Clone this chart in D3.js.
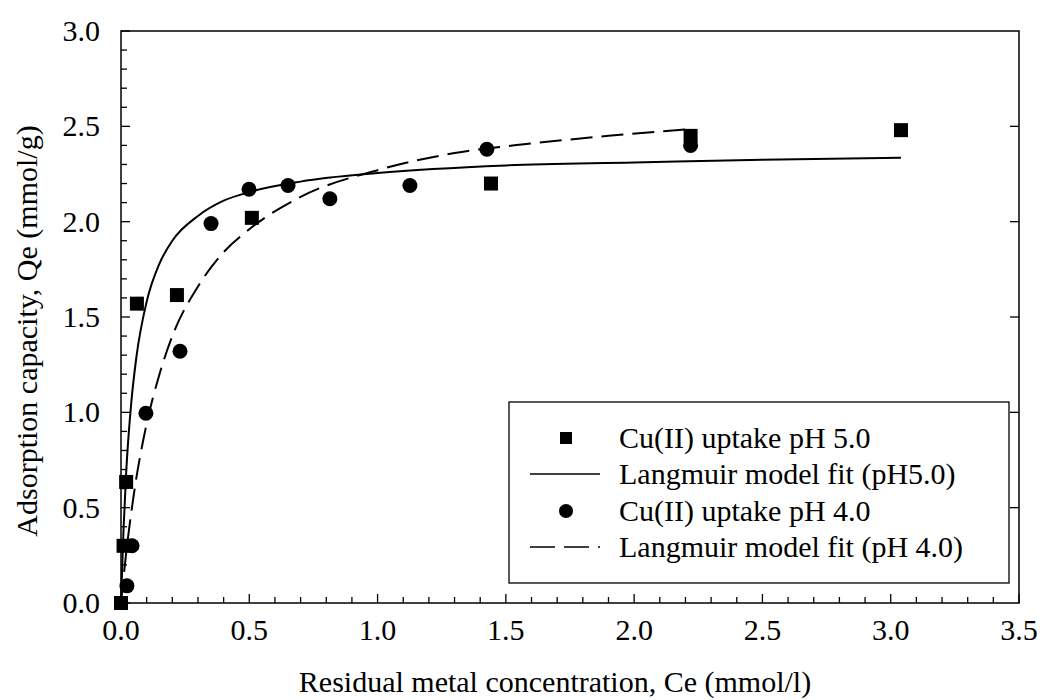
<!DOCTYPE html>
<html>
<head>
<meta charset="utf-8">
<script src="https://cdn.jsdelivr.net/npm/d3@7"></script>
<style>
  body { margin: 0; background: #fff; }
  svg text { font-family: "Liberation Serif", "Times New Roman", Times, "DejaVu Serif", serif; fill: #000; }
</style>
</head>
<body>
<script>
// measured points, Cu(II) uptake pH 5.0 (squares)
const ph5X = [0, 0.01, 0.02, 0.062, 0.218, 0.51, 1.442, 2.22, 3.04];
const ph5Y = [0, 0.30, 0.635, 1.57, 1.615, 2.02, 2.20, 2.45, 2.48];
// measured points, Cu(II) uptake pH 4.0 (circles)
const ph4X = [0.023, 0.043, 0.097, 0.23, 0.351, 0.499, 0.651, 0.814, 1.126, 1.426, 2.22];
const ph4Y = [0.09, 0.30, 0.995, 1.32, 1.99, 2.17, 2.19, 2.12, 2.19, 2.38, 2.40];
// Langmuir fit curves
const fit5X = [0, 0.01, 0.02, 0.04, 0.06, 0.1, 0.15, 0.2, 0.3, 0.4, 0.5, 0.7, 1.0, 1.5, 2.0, 2.5, 3.04];
const fit5Y = [0, 0.39, 0.68, 1.05, 1.29, 1.58, 1.78, 1.90, 2.03, 2.11, 2.155, 2.21, 2.255, 2.295, 2.31, 2.325, 2.335];
const fit4X = [0, 0.02, 0.05, 0.1, 0.15, 0.2, 0.3, 0.4, 0.5, 0.7, 1.0, 1.3, 1.6, 1.9, 2.22];
const fit4Y = [0, 0.26, 0.57, 0.94, 1.20, 1.40, 1.66, 1.84, 1.96, 2.13, 2.27, 2.36, 2.41, 2.45, 2.485];

const xTicks = [0, 0.5, 1.0, 1.5, 2.0, 2.5, 3.0, 3.5];
const yTicks = [0, 0.5, 1.0, 1.5, 2.0, 2.5, 3.0];
const legendLabels = ["Cu(II) uptake pH 5.0", "Langmuir model fit (pH5.0)", "Cu(II) uptake pH 4.0", "Langmuir model fit (pH 4.0)"];

const W = 1042, H = 700;
const plotL = 121, plotR = 1019, plotT = 31, plotB = 603;
const FONT = "'Liberation Serif', 'Times New Roman', Times, 'DejaVu Serif', serif";

const svg = d3.select("body").append("svg")
  .attr("width", W)
  .attr("height", H)
  .attr("font-family", FONT);

const x = d3.scaleLinear().domain([0, 3.5]).range([plotL, plotR]);
const y = d3.scaleLinear().domain([0, 3.0]).range([plotB, plotT]);

const xMinor = d3.range(0, 35.5, 1).map(d => d / 10);
const yMinor = d3.range(0, 30.5, 1).map(d => d / 10);

// frame
svg.append("rect")
  .attr("x", plotL).attr("y", plotT)
  .attr("width", plotR - plotL).attr("height", plotB - plotT)
  .attr("fill", "none").attr("stroke", "#000").attr("stroke-width", 1.5);

const isMajor = v => Math.abs(v * 2 - Math.round(v * 2)) < 1e-6;

// bottom ticks (inward)
svg.append("g").selectAll("line")
  .data(xMinor)
  .enter().append("line")
  .attr("x1", d => x(d)).attr("x2", d => x(d))
  .attr("y1", plotB).attr("y2", d => plotB - (isMajor(d) ? 9 : 6))
  .attr("stroke", "#000").attr("stroke-width", 1.3);

// left ticks (inward)
svg.append("g").selectAll("line")
  .data(yMinor)
  .enter().append("line")
  .attr("y1", d => y(d)).attr("y2", d => y(d))
  .attr("x1", plotL).attr("x2", d => plotL + (isMajor(d) ? 9 : 6))
  .attr("stroke", "#000").attr("stroke-width", 1.3);

// right ticks, majors only
svg.append("g").selectAll("line")
  .data(yTicks.slice(1, -1))
  .enter().append("line")
  .attr("y1", d => y(d)).attr("y2", d => y(d))
  .attr("x1", plotR).attr("x2", plotR - 9)
  .attr("stroke", "#000").attr("stroke-width", 1.3);

// tick labels
svg.append("g").selectAll("text")
  .data(xTicks)
  .enter().append("text")
  .attr("x", d => x(d)).attr("y", 640)
  .attr("text-anchor", "middle")
  .attr("font-size", 30)
  .text(d => d.toFixed(1));

svg.append("g").selectAll("text")
  .data(yTicks)
  .enter().append("text")
  .attr("x", 100).attr("y", d => y(d) + 10)
  .attr("text-anchor", "end")
  .attr("font-size", 30)
  .text(d => d.toFixed(1));

// axis titles
svg.append("text")
  .attr("x", 555).attr("y", 692)
  .attr("text-anchor", "middle")
  .attr("font-size", 30)
  .text("Residual metal concentration, Ce (mmol/l)");

svg.append("text")
  .attr("transform", "translate(37," + 331 + ") rotate(-90)")
  .attr("text-anchor", "middle")
  .attr("font-size", 30)
  .text("Adsorption capacity, Qe (mmol/g)");

// fit lines
const line = d3.line()
  .x(d => x(d[0]))
  .y(d => y(d[1]))
  .curve(d3.curveMonotoneX);

svg.append("path")
  .datum(d3.zip(fit5X, fit5Y))
  .attr("d", line)
  .attr("fill", "none").attr("stroke", "#000").attr("stroke-width", 2);

svg.append("path")
  .datum(d3.zip(fit4X, fit4Y))
  .attr("d", line)
  .attr("fill", "none").attr("stroke", "#000").attr("stroke-width", 2)
  .attr("stroke-dasharray", "22,9");

// markers
const sq = 14;
svg.append("g").selectAll("rect")
  .data(d3.zip(ph5X, ph5Y))
  .enter().append("rect")
  .attr("x", d => x(d[0]) - sq / 2)
  .attr("y", d => y(d[1]) - sq / 2)
  .attr("width", sq).attr("height", sq)
  .attr("fill", "#000");

svg.append("g").selectAll("circle")
  .data(d3.zip(ph4X, ph4Y))
  .enter().append("circle")
  .attr("cx", d => x(d[0]))
  .attr("cy", d => y(d[1]))
  .attr("r", 7.5)
  .attr("fill", "#000");

// legend
const lg = svg.append("g");
lg.append("rect")
  .attr("x", 509).attr("y", 402)
  .attr("width", 500).attr("height", 181)
  .attr("fill", "#fff").attr("stroke", "#000").attr("stroke-width", 1.3);

const rowY = [438, 474, 511, 547];
lg.append("rect")
  .attr("x", 566 - 6).attr("y", rowY[0] - 6)
  .attr("width", 12).attr("height", 12)
  .attr("fill", "#000");
lg.append("line")
  .attr("x1", 530).attr("x2", 600)
  .attr("y1", rowY[1]).attr("y2", rowY[1])
  .attr("stroke", "#000").attr("stroke-width", 1.5);
lg.append("circle")
  .attr("cx", 566).attr("cy", rowY[2]).attr("r", 7)
  .attr("fill", "#000");
lg.append("line")
  .attr("x1", 530).attr("x2", 600)
  .attr("y1", rowY[3]).attr("y2", rowY[3])
  .attr("stroke", "#000").attr("stroke-width", 1.5)
  .attr("stroke-dasharray", "25,9");

lg.selectAll("text.lab")
  .data(legendLabels)
  .enter().append("text")
  .attr("class", "lab")
  .attr("x", 619)
  .attr("y", (d, i) => rowY[i] + 10)
  .attr("font-size", 30)
  .text(d => d);
</script>
</body>
</html>
